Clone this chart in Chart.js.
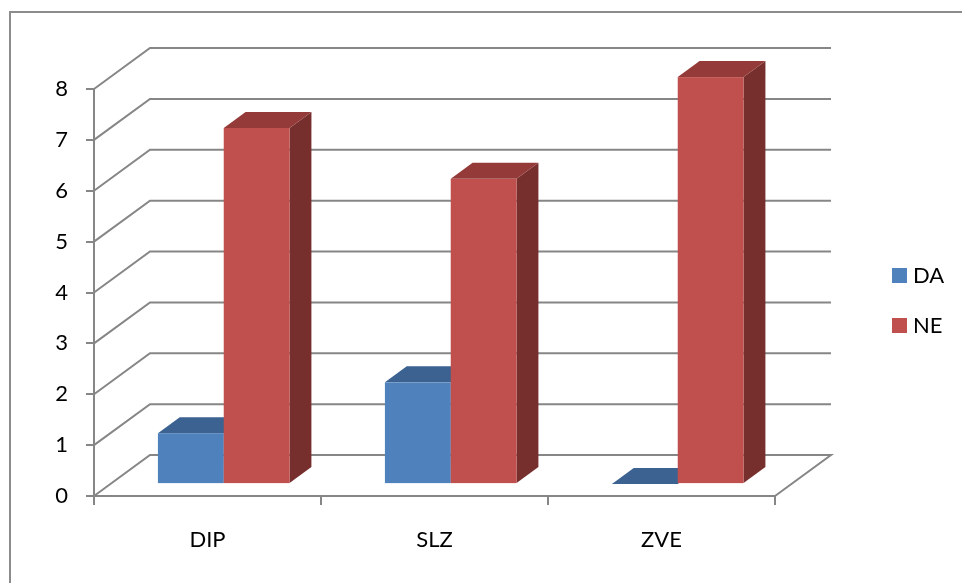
<!DOCTYPE html>
<html>
<head>
<meta charset="utf-8">
<script src="https://cdn.jsdelivr.net/npm/chart.js@4/dist/chart.umd.min.js"></script>
<style>
    body { margin: 0; background: #fff; }
    #wrap { width: 962px; height: 583px; }
</style>
</head>
<body>
<div id="wrap"><canvas id="chart" width="962" height="583"></canvas></div>
<script>
const categories = ['DIP', 'SLZ', 'ZVE'];
const seriesNames = ['DA', 'NE'];
const daValues = [1, 2, 0];
const neValues = [7, 6, 8];

// face colours per series: front, top, side
const frontColors = ['#4F81BD', '#C0504D'];
const topColors = ['#3B6290', '#943B39'];
const sideColors = ['#33557D', '#772F2E'];

const gridColor = '#868686';
const fontFamily = 'Lato, "Open Sans", sans-serif';

// 3d projection offsets (pixels)
const wallDx = 56, wallDy = -41;   // front plane -> back wall
const barPlane = 0.29;             // bars' front face position as fraction of depth
const barDepth = 0.39;             // bar thickness as fraction of depth

const wallPlugin = {
    id: 'wall3d',
    beforeDatasetsDraw(chart) {
        const ctx = chart.ctx;
        const yScale = chart.scales.y;
        const area = chart.chartArea;
        ctx.save();
        ctx.strokeStyle = gridColor;
        ctx.lineWidth = 2;
        yScale.ticks.forEach(t => {
            const y = yScale.getPixelForValue(t.value);
            ctx.beginPath();
            ctx.moveTo(area.left, y);
            ctx.lineTo(area.left + wallDx, y + wallDy);
            ctx.lineTo(area.right + wallDx, y + wallDy);
            if (t.value === 0) {
                ctx.lineTo(area.right, y);
            }
            ctx.stroke();
        });
        ctx.restore();
    },
    afterDatasetsDraw(chart) {
        const ctx = chart.ctx;
        const fx = wallDx * barPlane, fy = wallDy * barPlane;
        const dx = wallDx * barDepth, dy = wallDy * barDepth;
        ctx.save();
        categories.forEach((_, i) => {
            chart.data.datasets.forEach((ds, d) => {
                const bar = chart.getDatasetMeta(d).data[i];
                const left = bar.x - bar.width / 2 + fx;
                const right = bar.x + bar.width / 2 + fx;
                const top = bar.y + fy;
                const bottom = bar.base + fy;
                // side
                ctx.fillStyle = sideColors[d];
                ctx.beginPath();
                ctx.moveTo(right, top);
                ctx.lineTo(right + dx, top + dy);
                ctx.lineTo(right + dx, bottom + dy);
                ctx.lineTo(right, bottom);
                ctx.closePath();
                ctx.fill();
                // top
                ctx.fillStyle = topColors[d];
                ctx.beginPath();
                ctx.moveTo(left, top);
                ctx.lineTo(left + dx, top + dy);
                ctx.lineTo(right + dx, top + dy);
                ctx.lineTo(right, top);
                ctx.closePath();
                ctx.fill();
                // front
                ctx.fillStyle = frontColors[d];
                ctx.fillRect(left, top, right - left, bottom - top);
            });
        });
        ctx.restore();
    },
    afterDraw(chart) {
        const ctx = chart.ctx;
        ctx.save();
        // outer frame (only top and left edges are inside the picture)
        ctx.strokeStyle = '#8C8C8C';
        ctx.lineWidth = 2;
        ctx.beginPath();
        ctx.moveTo(10, 590);
        ctx.lineTo(10, 12);
        ctx.lineTo(970, 12);
        ctx.stroke();
        // legend
        ctx.font = '22px ' + fontFamily;
        ctx.textBaseline = 'middle';
        ctx.fillStyle = '#000';
        seriesNames.forEach((name, i) => {
            const y = 275 + i * 50;
            ctx.fillStyle = frontColors[i];
            ctx.fillRect(892, y - 7, 15, 15);
            ctx.fillStyle = '#000';
            ctx.fillText(name, 913, y + 1);
        });
        ctx.restore();
    }
};

new Chart(document.getElementById('chart'), {
    type: 'bar',
    data: {
        labels: categories,
        datasets: [
            { label: seriesNames[0], data: daValues, backgroundColor: 'rgba(0,0,0,0)' },
            { label: seriesNames[1], data: neValues, backgroundColor: 'rgba(0,0,0,0)' }
        ]
    },
    options: {
        responsive: false,
        animation: false,
        categoryPercentage: 0.58,
        barPercentage: 1,
        layout: { padding: { left: 0, top: 89, right: 187, bottom: 0 } },
        plugins: {
            legend: { display: false },
            tooltip: { enabled: false }
        },
        scales: {
            x: {
                afterFit(scale) { scale.height = 87; },
                grid: { drawOnChartArea: false, tickLength: 9, color: gridColor, lineWidth: 2 },
                border: { color: gridColor, width: 2 },
                ticks: { color: '#000', padding: 22, font: { family: fontFamily, size: 22 } }
            },
            y: {
                min: 0,
                max: 8,
                afterFit(scale) { scale.width = 94; },
                grid: { drawOnChartArea: false, tickLength: 8, color: gridColor, lineWidth: 2 },
                border: { color: gridColor, width: 2 },
                ticks: { stepSize: 1, color: '#000', padding: 18, font: { family: fontFamily, size: 22 } }
            }
        }
    },
    plugins: [wallPlugin]
});
</script>
</body>
</html>
